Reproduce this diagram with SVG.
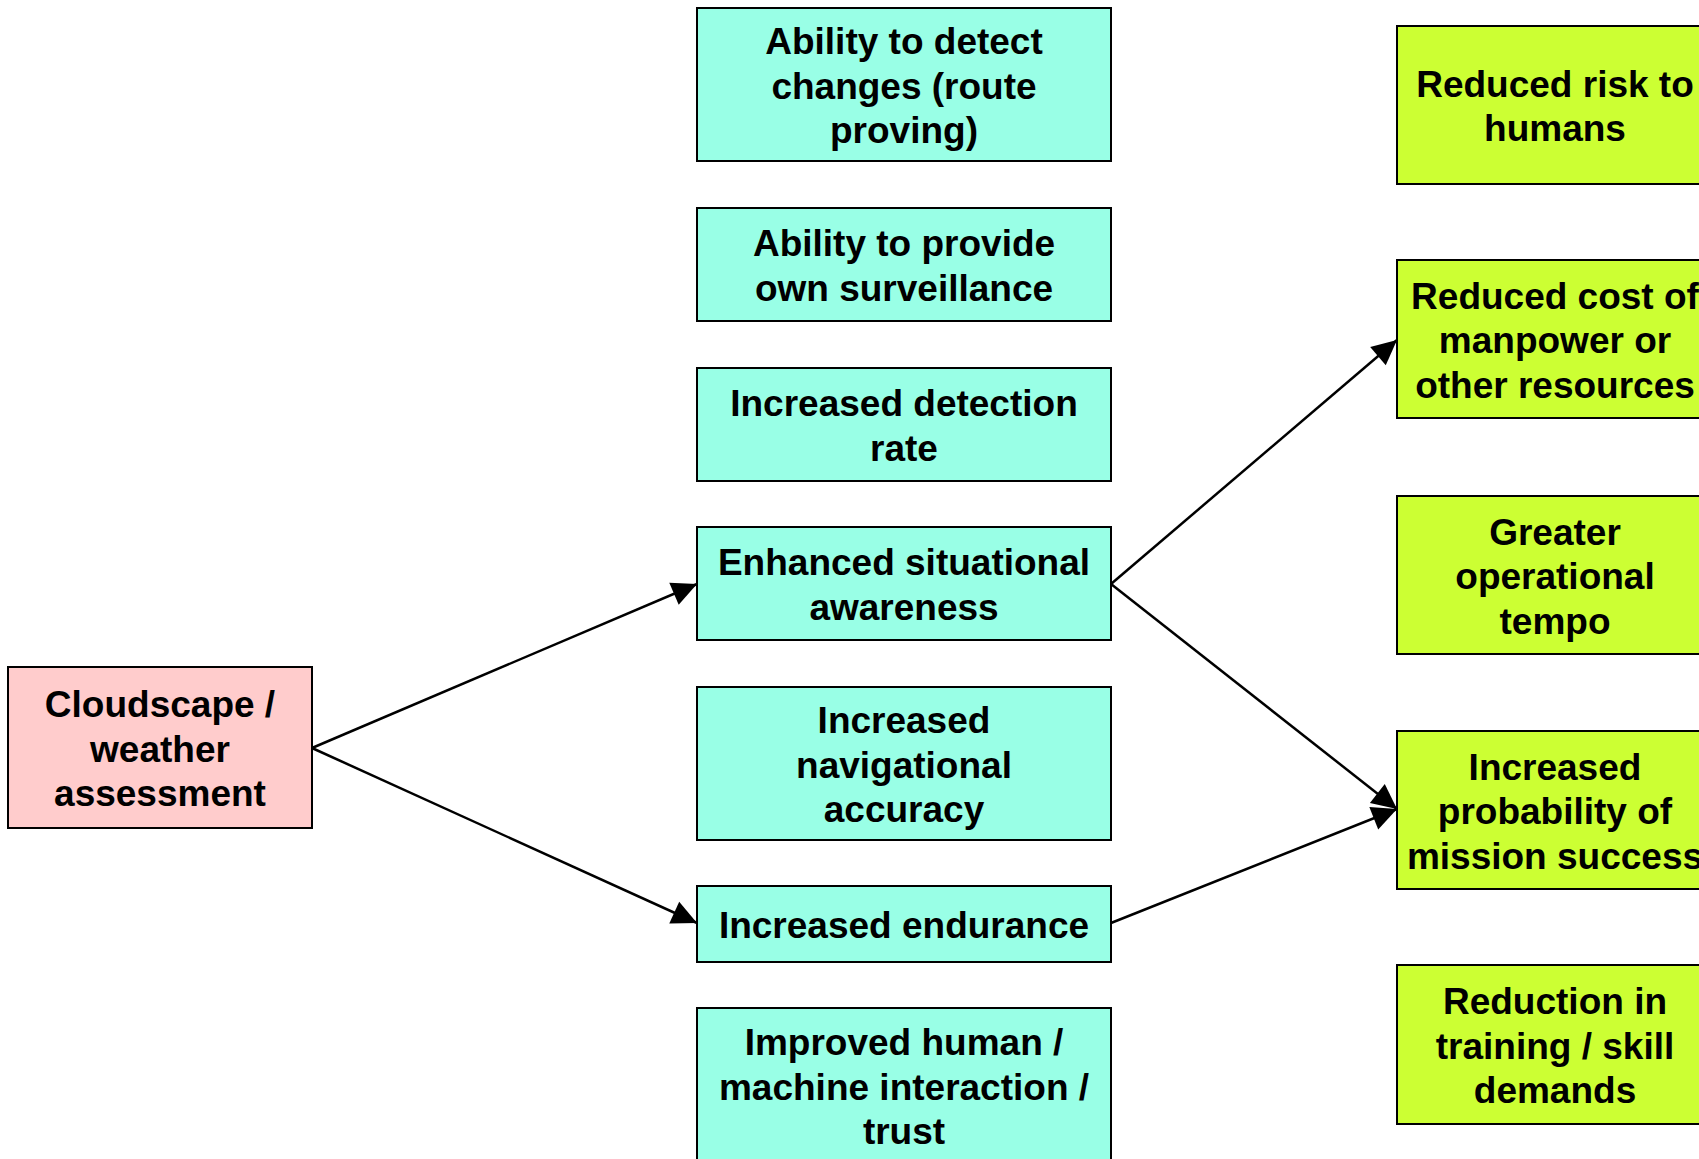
<svg xmlns="http://www.w3.org/2000/svg" width="1699" height="1159" viewBox="0 0 1699 1159">
  <style>
    .box { stroke: #000; stroke-width: 2; }
    .src { fill: #FFCCCC; }
    .mid { fill: #99FFE6; }
    .out { fill: #CCFF33; }
    text { font-family: "Liberation Sans", Arial, sans-serif; font-weight: bold; font-size: 37px; fill: #000; text-anchor: middle; }
    .edge { stroke: #000; stroke-width: 2.5; fill: none; marker-end: url(#arrow); }
  </style>
  <defs>
    <marker id="arrow" markerUnits="userSpaceOnUse" markerWidth="30" markerHeight="30" refX="25" refY="12" orient="auto" overflow="visible">
      <path d="M0,0 L25,12 L0,24 Z" fill="#000"/>
    </marker>
  </defs>
  <rect width="1699" height="1159" fill="#fff"/>

  <!-- source node -->
  <g id="cloudscape">
    <rect class="box src" x="8" y="667" width="304" height="161"/>
    <text x="160" y="717">Cloudscape /</text>
    <text x="160" y="761.5">weather</text>
    <text x="160" y="806">assessment</text>
  </g>

  <!-- capability column -->
  <g id="detect-changes">
    <rect class="box mid" x="697" y="8" width="414" height="153"/>
    <text x="904" y="54">Ability to detect</text>
    <text x="904" y="98.5">changes (route</text>
    <text x="904" y="143">proving)</text>
  </g>
  <g id="own-surveillance">
    <rect class="box mid" x="697" y="208" width="414" height="113"/>
    <text x="904" y="256">Ability to provide</text>
    <text x="904" y="300.5">own surveillance</text>
  </g>
  <g id="detection-rate">
    <rect class="box mid" x="697" y="368" width="414" height="113"/>
    <text x="904" y="416">Increased detection</text>
    <text x="904" y="460.5">rate</text>
  </g>
  <g id="situational-awareness">
    <rect class="box mid" x="697" y="527" width="414" height="113"/>
    <text x="904" y="575">Enhanced situational</text>
    <text x="904" y="619.5">awareness</text>
  </g>
  <g id="navigational-accuracy">
    <rect class="box mid" x="697" y="687" width="414" height="153"/>
    <text x="904" y="733">Increased</text>
    <text x="904" y="777.5">navigational</text>
    <text x="904" y="822">accuracy</text>
  </g>
  <g id="endurance">
    <rect class="box mid" x="697" y="886" width="414" height="76"/>
    <text x="904" y="937.5">Increased endurance</text>
  </g>
  <g id="human-machine">
    <rect class="box mid" x="697" y="1008" width="414" height="153"/>
    <text x="904" y="1055">Improved human /</text>
    <text x="904" y="1099.5">machine interaction /</text>
    <text x="904" y="1144">trust</text>
  </g>

  <!-- outcome column -->
  <g id="risk-to-humans">
    <rect class="box out" x="1397" y="26" width="316" height="158"/>
    <text x="1555" y="96.5">Reduced risk to</text>
    <text x="1555" y="141">humans</text>
  </g>
  <g id="cost-reduction">
    <rect class="box out" x="1397" y="260" width="316" height="158"/>
    <text x="1555" y="308.5">Reduced cost of</text>
    <text x="1555" y="353">manpower or</text>
    <text x="1555" y="397.5">other resources</text>
  </g>
  <g id="operational-tempo">
    <rect class="box out" x="1397" y="496" width="316" height="158"/>
    <text x="1555" y="544.5">Greater</text>
    <text x="1555" y="589">operational</text>
    <text x="1555" y="633.5">tempo</text>
  </g>
  <g id="mission-success">
    <rect class="box out" x="1397" y="731" width="316" height="158"/>
    <text x="1555" y="779.5">Increased</text>
    <text x="1555" y="824">probability of</text>
    <text x="1555" y="868.5">mission success</text>
  </g>
  <g id="training-demands">
    <rect class="box out" x="1397" y="965" width="316" height="159"/>
    <text x="1555" y="1014">Reduction in</text>
    <text x="1555" y="1058.5">training / skill</text>
    <text x="1555" y="1103">demands</text>
  </g>

  <!-- connectors -->
  <g id="connectors">
    <line class="edge" x1="312" y1="748" x2="697" y2="584"/>
    <line class="edge" x1="312" y1="748" x2="697" y2="923"/>
    <line class="edge" x1="1111" y1="584" x2="1397" y2="340"/>
    <line class="edge" x1="1111" y1="584" x2="1397" y2="809"/>
    <line class="edge" x1="1111" y1="923" x2="1397" y2="809"/>
  </g>
</svg>
